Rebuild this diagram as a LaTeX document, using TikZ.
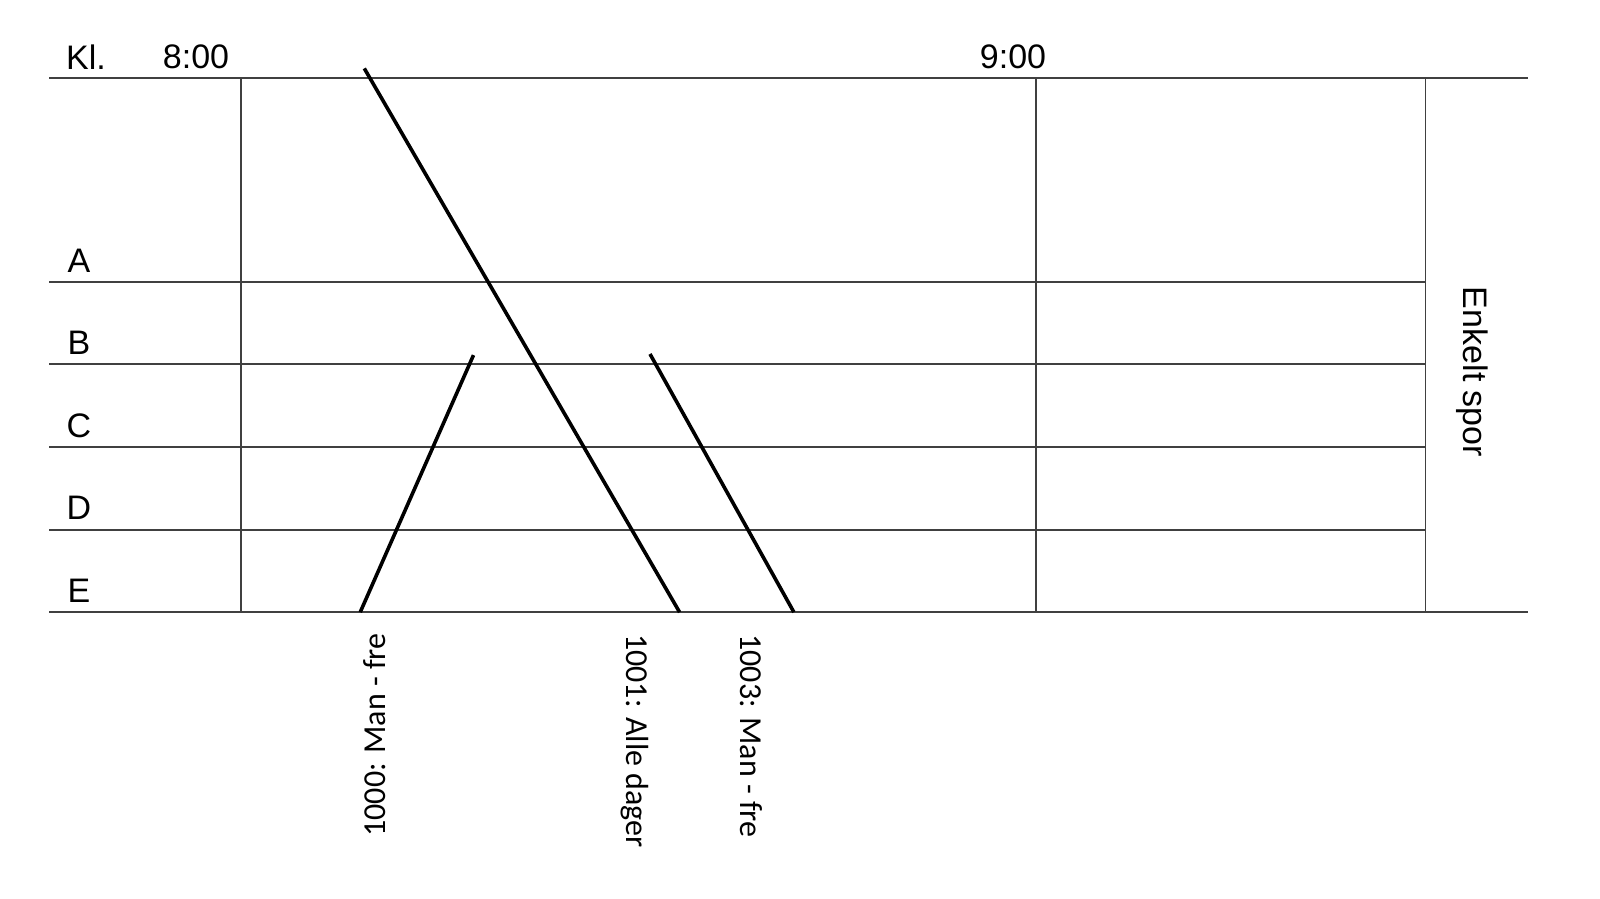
\documentclass[tikz,border=0pt]{standalone}
\usepackage{fontspec}
\setmainfont{Liberation Sans}
\newfontfamily\carlitofont{Carlito}
\begin{document}
\begin{tikzpicture}[x=1pt,y=-1pt,
  grid/.style={draw=black!75,line width=1.8pt},
  train/.style={draw=black,line width=3.6pt},
  lbl/.style={font=\fontsize{34}{40}\selectfont,inner sep=0pt},
  tlbl/.style={font=\carlitofont\fontsize{32}{38}\selectfont,inner sep=0pt}]
\useasboundingbox[fill=white] (0,0) rectangle (1600,898);
% grid
\coordinate (TL) at (49,77.6);
\coordinate (TR) at (1527.6,77.6);
\coordinate (BL) at (49,612.2);
\coordinate (BR) at (1527.6,612.2);
\draw[grid] (TL) -- (TR);
\draw[grid] (BL) -- (BR);
\foreach \y in {281.6,364.3,446.9,529.6}{\draw[grid] (49,\y) -- (1425.5,\y);}
\foreach \x in {240.8,1035.7,1425.5}{\draw[grid] (\x,77.6) -- (\x,612.2);}
% labels
\node[lbl] (kl) at (86,57) {Kl.};
\node[lbl] (t8) at (196,57) {8:00};
\node[lbl] (t9) at (1013,57) {9:00};
\node[lbl] (la) at (79,261) {A};
\node[lbl] (lb) at (79,343) {B};
\node[lbl] (lc) at (79,426) {C};
\node[lbl] (ld) at (79,508) {D};
\node[lbl] (le) at (79,591) {E};
\node[lbl,rotate=-90] (enk) at (1472.5,372) {Enkelt spor};
% trains
\coordinate (a1) at (364.3,68.4);
\coordinate (b1) at (679.6,612.2);
\coordinate (a0) at (360.2,612.2);
\coordinate (b0) at (473.5,355.1);
\coordinate (a3) at (650,354);
\coordinate (b3) at (793.9,612.2);
\draw[train] (a1) -- (b1);
\draw[train] (a0) -- (b0);
\draw[train] (a3) -- (b3);
\node[tlbl,rotate=90] (n1000) at (374.5,735) {1000: Man - fre};
\node[tlbl,rotate=-90] (n1001) at (634.7,741) {1001: Alle dager};
\node[tlbl,rotate=-90] (n1003) at (751,736) {1003: Man - fre};
\end{tikzpicture}
\end{document}
